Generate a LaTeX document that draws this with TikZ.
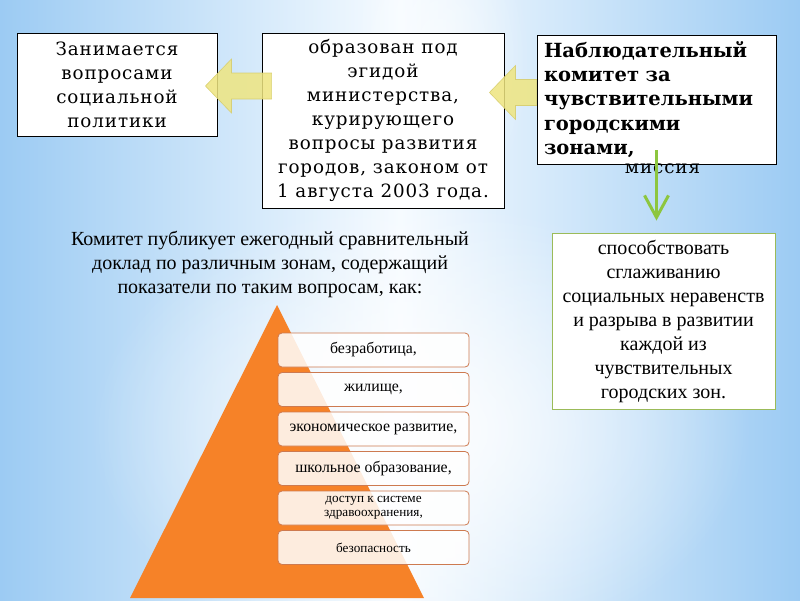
\documentclass[tikz,border=0pt]{standalone}
\usepackage{fontspec}
\setmainfont{DejaVu Serif}[LetterSpace=5]
\newfontfamily\headfont{DejaVu Serif}
\newfontfamily\timesfont{Liberation Serif}
\usetikzlibrary{calc,arrows.meta,fadings}

\definecolor{bgblue}{RGB}{156,203,243}
\definecolor{bglight}{RGB}{246,251,255}
\definecolor{pyrorange}{RGB}{246,130,40}
\definecolor{pyrline}{RGB}{205,122,80}
\definecolor{yarrowfill}{RGB}{238,229,128}
\definecolor{yarrowline}{RGB}{214,204,105}
\definecolor{greenarrow}{RGB}{141,198,63}
\definecolor{missionline}{RGB}{155,187,89}

\tikzfading[name=glow, inner color=transparent!0, outer color=transparent!100]

\tikzset{topbox/.style = {draw=black, fill=white, line width=0.9pt, inner sep=0pt, align=center,
                          font=\fontsize{18.3}{24}\selectfont}}
\tikzset{levelbox/.style = {draw=pyrline, fill=white, fill opacity=0.85, text opacity=1, rounded corners=4pt,
                            line width=0.8pt, minimum width=191pt, minimum height=34pt, inner sep=0pt,
                            align=center, font=\timesfont\fontsize{15.8}{17}\selectfont}}
\tikzset{yarrow/.style = {fill=yarrowfill, draw=yarrowline, line width=0.6pt, opacity=0.85}}

% fat block arrow: #1 = tail, #2 = tip (pointing left)
\newcommand{\blockarrow}[2]{%
  \path (#1) coordinate (tl) (#2) coordinate (tp);
  \filldraw[yarrow] (tp) -- ($(tp)+(26,-27)$) -- ($(tp)+(26,-13)$) -- ($(tl)+(0,-13)$)
     -- ($(tl)+(0,13)$) -- ($(tp)+(26,13)$) -- ($(tp)+(26,27)$) -- cycle;}

\begin{document}
\begin{tikzpicture}[x=1pt, y=-1pt]
      \useasboundingbox (0,0) rectangle (800,600);
      % background
      \shade[left color=bgblue, right color=bgblue, middle color=bglight] (0,0) rectangle (800,600);
      \fill[white, path fading=glow, opacity=0.9] (420,430) ellipse (330 and 230);
      \fill[white, path fading=glow, opacity=0.6] (440,60) ellipse (90 and 160);

      % top row
      \node[topbox, minimum width=200pt, minimum height=103pt] (sozial) at (117,84.5)
        {Занимается\\вопросами\\социальной\\политики};
      \node[topbox, minimum width=242pt, minimum height=175pt] (ministry) at (383,120.5)
        {образован под\\эгидой\\министерства,\\курирующего\\вопросы развития\\городов, законом от\\1 августа 2003 года.};
      \node[topbox, minimum width=239pt, minimum height=129pt, text width=225pt, align=left,
            font=\headfont\bfseries\fontsize{19.5}{24.3}\selectfont] (komitet) at (656.5,99.5)
        {Наблюдательный\\комитет за\\чувствительными\\городскими\\зонами,};
      \node[font=\fontsize{18.3}{20}\selectfont, inner sep=0pt] (missiya) at ($(komitet.south)+(6,4)$) {миссия};

      \blockarrow{$(ministry.west |- sozial.east)+(10,1.5)$}{$(sozial.east)+(-12,1.5)$}
      \blockarrow{$(komitet.west)+(0,-7)$}{$(ministry.east |- komitet.west)+(-15,-7)$}

      % mission
      \node[draw=missionline, fill=white, line width=0.9pt, minimum width=223pt, minimum height=176pt,
            inner sep=0pt, align=center, font=\timesfont\fontsize{20}{24}\selectfont] (mission) at (663.5,321)
        {способствовать\\сглаживанию\\социальных неравенств\\и разрыва в развитии\\каждой из\\чувствительных\\городских зон.};
      \draw[greenarrow, line width=3.5pt, -{Straight Barb[length=22pt, width=24pt, line width=3pt]}]
        ($(komitet.south)+(0,-14)$) -- ($(komitet.south |- mission.north)+(0,-12)$);

      % report
      \node[align=center, font=\timesfont\fontsize{20}{24}\selectfont] (doklad) at (270,264)
        {Комитет публикует ежегодный сравнительный\\доклад по различным зонам, содержащий\\показатели по таким вопросам, как:};

      % pyramid
      \fill[pyrorange] (277,305) -- (424,598) -- (130,598) -- cycle;
      \node[levelbox] (l1) at (373.5,350) {безработица,};
      \node[levelbox] (l2) at (373.5,389.5) {жилище,};
      \node[levelbox] (l3) at (373.5,429) {экономическое развитие,};
      \node[levelbox] (l4) at (373.5,468.5) {школьное образование,};
      \node[levelbox, font=\timesfont\fontsize{13.2}{14}\selectfont] (l5) at (373.5,508) {доступ к системе\\здравоохранения,};
      \node[levelbox, font=\timesfont\fontsize{13.2}{14}\selectfont] (l6) at (373.5,547.5) {безопасность};
    \end{tikzpicture}
\end{document}
